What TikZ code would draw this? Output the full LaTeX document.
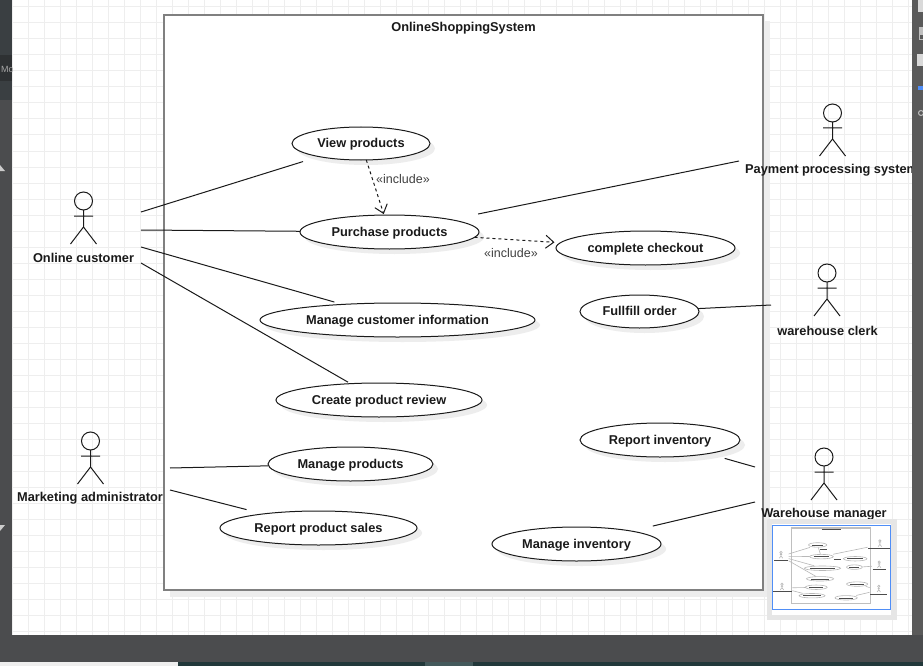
\documentclass[tikz,border=0pt]{standalone}
\usepackage{fontspec}
\setmainfont{Liberation Sans}
\usetikzlibrary{shapes.geometric,arrows.meta,shadows}
\definecolor{gridc}{HTML}{EEEEEE}
\definecolor{shadowc}{HTML}{EDEDED}
\definecolor{framec}{HTML}{808080}
\definecolor{panelc}{HTML}{4B4C4E}
\definecolor{sidec}{HTML}{5A5A5A}
\definecolor{inkc}{HTML}{1A1A1A}
\definecolor{sidetop}{HTML}{3A3F42}
\definecolor{sidedark}{HTML}{2E3133}
\definecolor{tealc}{HTML}{22383A}
\definecolor{teallight}{HTML}{44595B}
\definecolor{bluec}{HTML}{4F8EF7}
\definecolor{rimc}{HTML}{E6E6E6}
\tikzset{
  usecase/.style={ellipse,draw=inkc,line width=1pt,fill=white,inner sep=0pt,outer sep=0pt,
    text height=11pt,text depth=2.4pt,
    font=\fontsize{12.8}{14}\selectfont\bfseries,text=inkc,
    general shadow={fill=shadowc,shadow xshift=5pt,shadow yshift=-5pt}},
  actorline/.style={draw=inkc,line width=1pt},
  actorlabel/.style={font=\fontsize{12.8}{14}\selectfont\bfseries,text=inkc,inner sep=0pt},
  assoc/.style={draw=inkc,line width=1pt},
  incl/.style={draw=inkc,line width=1pt,dash pattern=on 3pt off 3pt,
    -{Straight Barb[length=8pt,width=13pt,line width=1pt]}},
  incllabel/.style={font=\fontsize{12.5}{14}\selectfont,text=black!75,inner sep=0pt},
  minibar/.style={draw=black!70,line width=0.5pt},
  miniline/.style={draw=black!28,line width=0.6pt},
}
\newcommand{\actorfig}[2]{%
  \draw[actorline] (#1,#2) circle[radius=9];
  \draw[actorline] (#1,#2+9) -- (#1,#2+26) (#1-9.5,#2+15) -- (#1+9.5,#2+15)
    (#1-13,#2+43) -- (#1,#2+26) -- (#1+13,#2+43);
}
\begin{document}
\begin{tikzpicture}[x=1pt,y=-1pt]
\useasboundingbox (0,0) rectangle (923,666);
% canvas and grid
\fill[white] (0,0) rectangle (923,666);
\foreach \gx in {12,28,...,908} \draw[gridc,line width=1pt] (\gx,0) -- (\gx,635);
\foreach \gy in {7,23,...,631} \draw[gridc,line width=1pt] (12,\gy) -- (912,\gy);
% system frame
\fill[shadowc] (170,21) rectangle (770,597);
\node[draw=framec,line width=2pt,fill=white,inner sep=0pt,outer sep=0pt,minimum width=599pt,minimum height=575pt] (frame) at (463.5,302.5) {};
\node[actorlabel] (title) at (463.5,28.5) {OnlineShoppingSystem};
% use cases
\node[usecase,minimum width=138pt,minimum height=33pt] (view) at (361,143.5) {View products};
\node[usecase,minimum width=179pt,minimum height=34pt] (purchase) at (389.5,232) {Purchase products};
\node[usecase,minimum width=179pt,minimum height=34pt] (checkout) at (645.5,248) {complete checkout};
\node[usecase,minimum width=275pt,minimum height=34pt] (custinfo) at (397.5,320) {Manage customer information};
\node[usecase,minimum width=119pt,minimum height=33pt] (fulfill) at (639.5,311.5) {Fullfill order};
\node[usecase,minimum width=206pt,minimum height=34pt] (review) at (379,400) {Create product review};
\node[usecase,minimum width=160pt,minimum height=34pt] (repinv) at (660,440) {Report inventory};
\node[usecase,minimum width=165pt,minimum height=34pt] (manprod) at (350.5,464) {Manage products};
\node[usecase,minimum width=197pt,minimum height=34pt] (repsales) at (318.5,528) {Report product sales};
\node[usecase,minimum width=169pt,minimum height=34pt] (maninv) at (576.5,544) {Manage inventory};
% actors
\actorfig{83.5}{201}
\actorfig{90.5}{441}
\actorfig{832.5}{113}
\actorfig{827}{273}
\actorfig{824}{457}
\node[actorlabel] (lcust) at (83.5,258) {Online customer};
\node[actorlabel] (lmark) at (90,498) {Marketing administrator};
\node[actorlabel,anchor=west] (lpay) at (745,170.5) {Payment processing system};
\node[actorlabel] (lclerk) at (827.5,330.5) {warehouse clerk};
\node[actorlabel] (lman) at (824,514.5) {Warehouse manager};
% free ends
\coordinate (c1) at (141,212);
\coordinate (c2) at (141,230);
\coordinate (c3) at (141,247);
\coordinate (c4) at (141,263);
\coordinate (m1) at (170,468);
\coordinate (m2) at (170,490);
\coordinate (p1) at (739,161);
\coordinate (w1) at (771,305);
\coordinate (g1) at (755,467);
\coordinate (g2) at (755,502);
% associations
\draw[assoc,shorten >=16.7pt] (c1) -- (view);
\draw[assoc] (c2) -- (purchase);
\draw[assoc,shorten >=8.7pt] (c3) -- (custinfo);
\draw[assoc,shorten >=3pt] (c4) -- (review);
\draw[assoc] (m1) -- (manprod);
\draw[assoc,shorten >=17.4pt] (m2) -- (repsales);
\draw[assoc,shorten >=28pt] (p1) -- (purchase);
\draw[assoc] (w1) -- (fulfill);
\draw[assoc,shorten >=17.4pt] (g1) -- (repinv);
\draw[assoc,shorten >=22pt] (g2) -- (maninv);
% includes
\draw[incl,shorten >=1pt] (view) -- (purchase);
\draw[incl,shorten >=6pt] (purchase) -- (checkout);
\node[incllabel] (inc1) at (403,179) {«include»};
\node[incllabel] (inc2) at (511,253) {«include»};
% side and bottom panels
\fill[sidec] (912,0) rectangle (923,666);
\fill[panelc] (0,0) rectangle (12,666);
\fill[sidetop] (0,0) rectangle (12,100);
\fill[sidedark] (0,55) rectangle (12,81);
\begin{scope}
\clip (0,55) rectangle (12,81);
\node[font=\fontsize{9}{10}\selectfont,text=black!35!white,anchor=west,inner sep=0pt] (mo) at (1,69) {Mo};
\end{scope}
\fill[white!80!black] (0,165) -- (5,171) -- (0,171) -- cycle;
\fill[white!80!black] (0,525) -- (5,525) -- (0,531) -- cycle;
\fill[panelc] (0,635) rectangle (923,662);
\fill[gridc] (0,662) rectangle (178,666);
\fill[tealc] (178,662) rectangle (923,666);
\fill[teallight] (425,662) rectangle (473,666);
% toolbar glyphs
\fill[black!15] (918,0) rectangle (923,12);
\fill[black!25] (919,27) rectangle (923,34);
\draw[black!25,line width=1pt] (919,35) rectangle (923,40);
\fill[black!15] (917,54) rectangle (923,66);
\fill[bluec] (918,86) rectangle (923,90);
\draw[black!25,line width=1pt] (921,113) circle[radius=2.5];
% minimap
\fill[rimc] (767,519) rectangle (897,620);
\fill[white] (772,524) rectangle (891,615);
\begin{scope}[shift={(770,526)},scale=.132]
\draw[draw=black!25,line width=1.2pt,fill=white] (164,15) rectangle (763,590);
\foreach \cx/\cy/\rx in {361/143.5/69,389.5/232/89.5,645.5/248/89.5,397.5/320/137.5,639.5/311.5/59.5,379/400/103,660/440/80,350.5/464/82.5,318.5/528/98.5,576.5/544/84.5}
  \draw[miniline] (\cx,\cy) ellipse[x radius=\rx,y radius=17];
\draw[miniline] (141,212)--(303,162) (141,230)--(300,231) (141,247)--(334,301) (141,263)--(348,382)
  (170,468)--(268,466) (170,490)--(247,510) (478,214)--(739,161) (699,310)--(771,305) (725,457)--(755,467) (653,526)--(755,502) (366,162)--(382,215);
\foreach \hx/\hy in {83.5/201,90.5/441,832.5/113,827/273,824/457} {
  \draw[miniline] (\hx,\hy) circle[radius=9];
  \draw[miniline] (\hx,\hy+9)--(\hx,\hy+26) (\hx-13,\hy+43)--(\hx,\hy+26)--(\hx+13,\hy+43) (\hx-9,\hy+15)--(\hx+9,\hy+15);
}
\foreach \bx/\by/\bw in {463.5/27.5/73,361/143.5/44,389.5/232/60,645.5/248/59,397.5/320/93,639.5/311.5/38,379/400/69,660/440/52,350.5/464/54,318.5/528/66,576.5/544/55,83.5/257/51,90/497/73,832/169.5/88,827.5/329.5/51,824/513.5/64,403.5/178.5/28,511.5/252.5/28}
  \draw[minibar] (\bx-\bw,\by) -- (\bx+\bw,\by);
\end{scope}
\draw[bluec,line width=1pt] (772.5,525.5) rectangle (890.5,609.5);
\end{tikzpicture}
\end{document}
